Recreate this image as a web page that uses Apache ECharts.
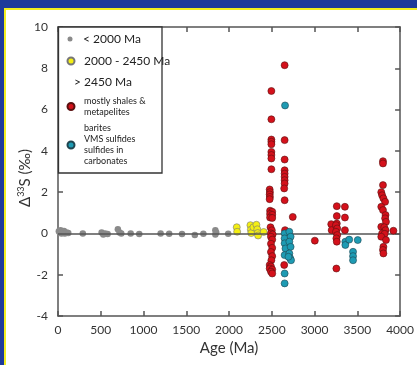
<!DOCTYPE html>
<html>
<head>
<meta charset="utf-8">
<script src="https://cdn.jsdelivr.net/npm/echarts@6/dist/echarts.min.js"></script>
<style>
html,body{margin:0;padding:0;background:#1e3a9a;}
#chart{width:417px;height:365px;}
</style>
</head>
<body>
<div id="chart"></div>
<script>
// ---- Data (age in Ma, Δ33S in ‰) ----
var seriesNames = ['lt2000', 'mid', 'shales', 'barites'];
var legendLabels = {
  lt2000: '< 2000 Ma',
  mid: '2000 - 2450 Ma',
  shales: 'mostly shales &\nmetapelites',
  barites: 'barites\nVMS sulfides\nsulfides in\ncarbonates'
};
var headerLabel = '> 2450 Ma';
var yAxisTitle = 'Δ{sup|33}S (‰)';
var xAxisTitle = 'Age (Ma)';
var xTicks = [0, 500, 1000, 1500, 2000, 2500, 3000, 3500, 4000];
var yTicks = [-4, -2, 0, 2, 4, 6, 8, 10];

var grayPts = [
  [10,0.1],[20,0.05],[30,0.15],[40,0.0],[50,0.1],[60,0.05],[70,0.12],[80,0.0],[100,0.05],[120,0.02],
  [290,0.0],[510,0.05],[530,-0.05],[550,0.0],[580,-0.03],[700,0.2],[720,0.05],[740,0.0],
  [850,0.0],[950,-0.03],[1200,0.0],[1300,-0.02],[1450,-0.03],[1600,-0.08],[1700,-0.02],
  [1840,0.15],[1840,-0.05],[1850,0.05],[1990,-0.02]
];
var yellowPts = [
  [2090,0.3],[2095,0.08],[2250,0.4],[2255,0.18],[2260,0.02],[2285,0.3],
  [2320,0.42],[2330,0.2],[2335,0.02],[2340,-0.1],[2405,0.07]
];
var redPts = [
  [2495,6.9],[2495,5.53],[2495,4.55],[2495,4.44],[2495,4.32],[2495,3.95],[2495,3.8],[2495,3.63],[2495,3.11],
  [2475,2.13],[2478,2.0],[2475,1.89],[2478,1.77],[2475,1.66],
  [2480,1.1],[2505,1.05],[2480,0.94],[2505,0.9],[2480,0.77],[2505,0.75],
  [2485,0.3],[2500,0.15],[2490,0.0],[2510,-0.05],
  [2490,-0.16],[2505,-0.3],[2490,-0.5],[2505,-0.7],[2490,-0.9],[2505,-1.1],[2495,-1.3],
  [2475,-1.53],[2490,-1.6],[2475,-1.7],[2505,-1.75],[2490,-1.85],[2505,-1.94],
  [2650,8.15],[2650,4.52],[2650,3.58],[2650,3.06],[2650,2.9],[2650,2.74],[2650,2.58],[2650,2.42],[2645,2.18],
  [2650,1.61],[2655,0.16],[2645,-1.53],
  [2745,0.8],[3003,-0.35],
  [3195,0.45],[3200,0.16],
  [3260,1.32],[3260,0.84],[3260,0.48],[3250,0.4],[3265,0.24],[3250,0.08],[3265,-0.08],[3255,-0.24],[3260,-0.4],
  [3255,-1.7],
  [3355,1.29],[3355,0.77],[3355,0.16],
  [3800,3.5],[3800,3.39],[3800,2.34],[3780,2.0],[3790,1.85],[3805,1.7],[3825,1.53],[3780,1.29],[3800,1.13],
  [3830,0.89],[3825,0.73],[3835,0.56],[3780,0.32],[3815,0.3],[3830,0.16],[3790,0.0],[3820,-0.02],[3780,-0.16],
  [3835,-0.32],[3805,-0.65],[3800,-0.8],[3805,-0.97],
  [3922,0.13]
];
var tealPts = [
  [2655,6.2],[2650,0.0],[2650,-0.24],[2650,-0.48],[2660,-0.73],[2650,-1.05],[2650,-1.94],[2650,-2.42],
  [2705,0.08],[2720,-0.16],[2705,-0.4],[2720,-0.65],[2705,-0.97],[2715,-1.2],[2725,-1.3],[2695,-1.13],
  [3360,-0.4],[3360,-0.56],[3405,-0.3],[3450,-0.89],[3450,-1.1],[3450,-1.3],[3505,-0.32]
];

// ---- Chart ----
var chart = echarts.init(document.getElementById('chart'), null, {renderer: 'canvas'});
var axisColor = '#555';
var font = 'Lato';

function legendFor(name, top, size, fontSize, lineHeight) {
  return {
    data: [name],
    left: 70 - size / 2, top: top, z: 100,
    padding: 0,
    orient: 'vertical',
    selectedMode: false,
    itemGap: 0,
    icon: 'circle',
    itemWidth: size, itemHeight: size,
    formatter: function (n) { return legendLabels[n]; },
    textStyle: {fontFamily: font, fontSize: fontSize, lineHeight: lineHeight, color: '#222',
      padding: [0, 0, 0, 83 - (70 + size / 2) - 5]}
  };
}

var option = {
  animation: false,
  backgroundColor: 'transparent',
  graphic: {
    z: 0,
    elements: [
      {type: 'rect', z: -10, shape: {x: 0, y: 0, width: 417, height: 365}, style: {fill: '#1e3a9a'}},
      {type: 'rect', z: -9, shape: {x: 4, y: 8, width: 413, height: 357}, style: {fill: '#f2ee20'}},
      {type: 'rect', z: -8, shape: {x: 6, y: 10, width: 411, height: 355}, style: {fill: '#ffffff'}}
    ]
  },
  legend: [
    legendFor('lt2000', 32, 5, 12, 14),
    legendFor('mid', 54, 7, 12, 14),
    legendFor('shales', 96, 7, 9, 10.5),
    legendFor('barites', 123, 7, 9, 11)
  ],
  grid: {left: 58, right: 14, top: 27, bottom: 49},
  xAxis: [{
    type: 'value', min: 0, max: 4000, interval: 500,
    name: xAxisTitle, nameLocation: 'middle', nameGap: 25,
    nameTextStyle: {fontFamily: font, fontSize: 15, color: '#333'},
    axisLine: {show: true, onZero: false, lineStyle: {color: axisColor, width: 1.5}},
    axisTick: {show: true, inside: true, length: 5, lineStyle: {color: axisColor, width: 1.5}},
    axisLabel: {margin: 8, fontFamily: font, fontSize: 12, color: '#333', formatter: function (v) { return String(v); }},
    splitLine: {show: false}
  }, {
    type: 'value', position: 'top', min: 0, max: 4000, interval: 500,
    axisLine: {show: true, onZero: false, lineStyle: {color: axisColor, width: 1.5}},
    axisTick: {show: true, inside: true, length: 5, lineStyle: {color: axisColor, width: 1.5}},
    axisLabel: {show: false}, splitLine: {show: false}
  }],
  yAxis: [{
    type: 'value', min: -4, max: 10, interval: 2,
    axisLine: {show: true, onZero: false, lineStyle: {color: axisColor, width: 1.5}},
    axisTick: {show: true, inside: true, length: 5, lineStyle: {color: axisColor, width: 1.5}},
    axisLabel: {margin: 10, fontFamily: font, fontSize: 12, color: '#333'},
    splitLine: {show: false}
  }, {
    type: 'value', position: 'right', min: -4, max: 10, interval: 2,
    axisLine: {show: true, onZero: false, lineStyle: {color: axisColor, width: 1.5}},
    axisTick: {show: true, inside: true, length: 5, lineStyle: {color: axisColor, width: 1.5}},
    axisLabel: {show: false}, splitLine: {show: false}
  }],
  series: [
    {
      name: 'lt2000', type: 'scatter', data: grayPts, symbolSize: 6.5, z: 3,
      itemStyle: {color: '#8a8a8a', opacity: 1},
      markLine: {
        silent: true, symbol: 'none', label: {show: false},
        lineStyle: {color: '#555', width: 1.5, type: 'solid'},
        data: [{yAxis: 0}]
      }
    },
    {
      name: 'mid', type: 'scatter', data: yellowPts, symbolSize: 7, z: 4,
      itemStyle: {color: '#f4ef12', borderColor: '#777', borderWidth: 0.6, opacity: 1}
    },
    {
      name: 'shales', type: 'scatter', data: redPts, symbolSize: 7, z: 5,
      itemStyle: {color: '#d4111b', borderColor: '#5a1010', borderWidth: 0.6, opacity: 1}
    },
    {
      name: 'barites', type: 'scatter', data: tealPts, symbolSize: 7, z: 6,
      itemStyle: {color: '#1e9bb3', borderColor: '#1f4550', borderWidth: 0.6, opacity: 1}
    },
    {
      // legend frame, header and y-axis title
      type: 'custom', coordinateSystem: 'none', silent: true, z: 50, data: [0],
      renderItem: function () {
        return {
          type: 'group', children: [
            {type: 'rect', shape: {x: 58.5, y: 27, width: 103.5, height: 146}, style: {fill: '#fff', stroke: '#333', lineWidth: 1.3}},
            {type: 'text', x: 74, y: 76, style: {text: headerLabel, font: '12px Lato', fill: '#222'}},
            {type: 'text', x: 25, y: 178, rotation: Math.PI / 2,
              style: {text: yAxisTitle, font: '15px Lato', fill: '#333', align: 'center', verticalAlign: 'middle',
                rich: {sup: {font: '9px Lato', fill: '#333', verticalAlign: 'top', padding: [0, 0, 7, 0]}}}}
          ]
        };
      }
    }
  ]
};
chart.setOption(option);
</script>
</body>
</html>
